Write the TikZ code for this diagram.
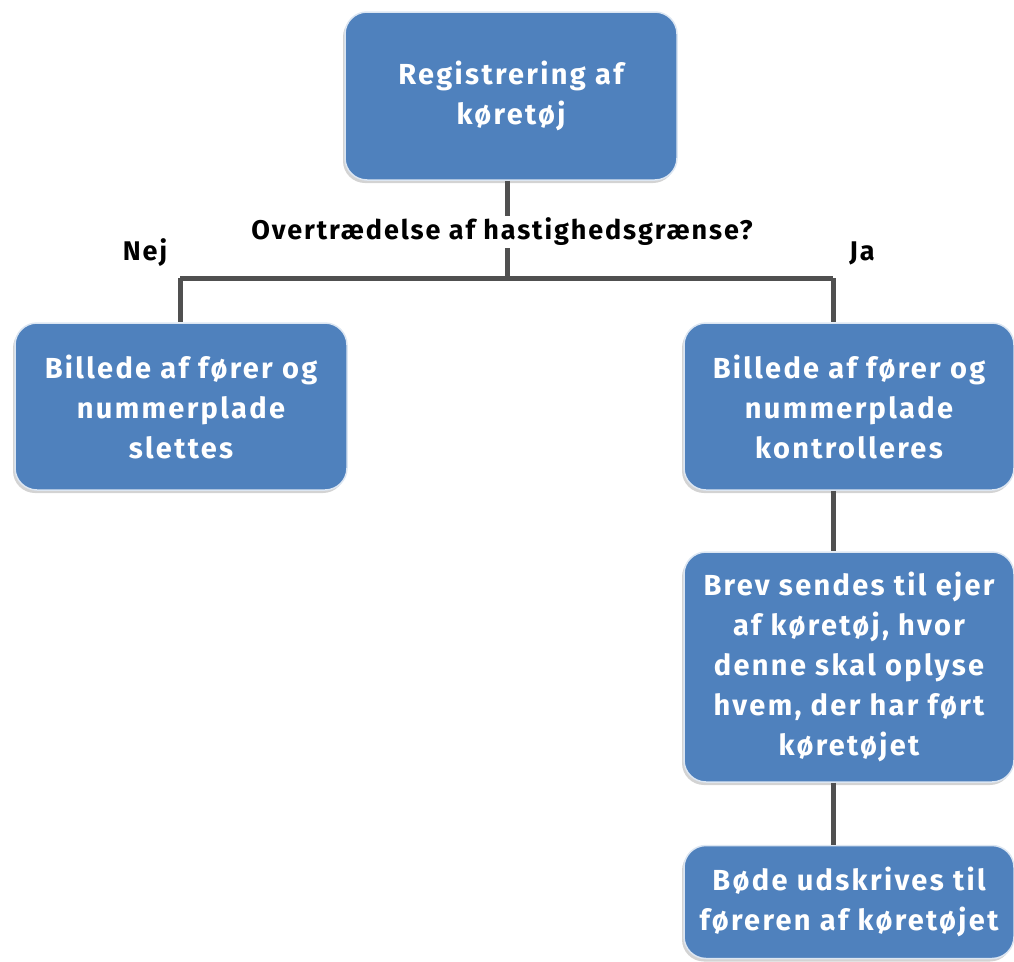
\documentclass[tikz,border=0pt]{standalone}
\usepackage{fontspec}
\setmainfont{Fira Sans}
\newfontfamily\boxfont[LetterSpace=8]{Fira Sans}
\newfontfamily\lblfont[LetterSpace=7]{Fira Sans}
\usetikzlibrary{shadows}
\definecolor{boxblue}{HTML}{4F81BD}
\definecolor{boxedge}{HTML}{DCE6F2}
\definecolor{linegray}{HTML}{505050}
\begin{document}
\begin{tikzpicture}[x=1pt,y=-1pt,
  flowbox/.style={rectangle, rounded corners=22pt, fill=boxblue, draw=boxedge, line width=1.5pt,
    drop shadow={shadow xshift=-2pt, shadow yshift=-3pt, opacity=0.35},
    text=white, font=\boxfont\fontsize{29}{40}\selectfont\bfseries, align=center, inner sep=0pt},
  conn/.style={draw=linegray, line width=5pt},
  lbl/.style={font=\lblfont\fontsize{27}{30}\selectfont\bfseries, text=black, inner sep=2pt}]
\useasboundingbox (0,0) rectangle (1014,961);
\node[flowbox, minimum width=332pt, minimum height=168pt] (top) at (511,96) {Registrering af\\køretøj};
\node[flowbox, minimum width=332pt, minimum height=167pt] (left) at (181,406.5) {Billede af fører og\\nummerplade\\slettes};
\node[flowbox, minimum width=330pt, minimum height=167pt] (right) at (849,406.5) {Billede af fører og\\nummerplade\\kontrolleres};
\node[flowbox, minimum width=330pt, minimum height=230pt] (brev) at (849,667) {Brev sendes til ejer\\af køretøj, hvor\\denne skal oplyse\\hvem, der har ført\\køretøjet};
\node[flowbox, minimum width=330pt, minimum height=113pt] (bode) at (849,902) {Bøde udskrives til\\føreren af køretøjet};
\coordinate (jt) at (507,278);
\coordinate (jl) at (180,278);
\coordinate (jr) at (833,278);
\draw[conn] (top.south -| jt) -- (jt);
\draw[conn] (jl) -- (jr);
\draw[conn] (jl) -- (left.north -| jl);
\draw[conn] (jr) -- (right.north -| jr);
\draw[conn] (right.south -| jr) -- (brev.north -| jr);
\draw[conn] (brev.south -| jr) -- (bode.north -| jr);
\node[lbl, fill=white] (q) at (502,232) {Overtrædelse af hastighedsgrænse?};
\node[lbl] (nej) at (145,253) {Nej};
\node[lbl] (ja) at (862,253) {Ja};
\end{tikzpicture}
\end{document}
